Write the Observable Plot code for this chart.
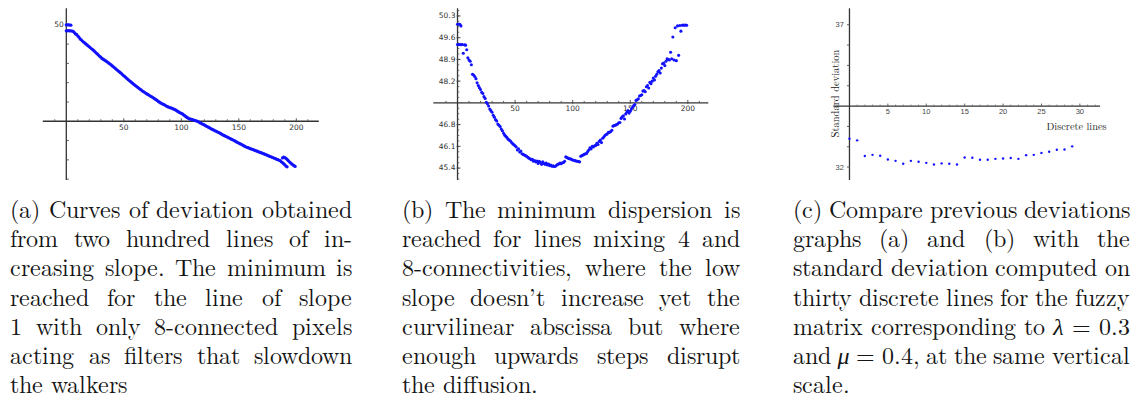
<!DOCTYPE html>
<html><head><meta charset="utf-8">
<script src="https://cdn.jsdelivr.net/npm/d3@7"></script>
<script src="https://cdn.jsdelivr.net/npm/@observablehq/plot@0.6"></script>
<style>
@font-face{font-family:"CapLM";font-style:normal;font-weight:400;
  src:local("LM Roman 10 Regular"),local("LMRoman10-Regular"),local("Latin Modern Roman"),local("CMU Serif Roman"),local("CMUSerif-Roman");
  ascent-override:80%;descent-override:24%;line-gap-override:0%;}
@font-face{font-family:"CapLM";font-style:italic;font-weight:400;
  src:local("LM Roman 10 Italic"),local("LMRoman10-Italic"),local("CMU Serif Italic"),local("CMUSerif-Italic");
  ascent-override:80%;descent-override:24%;line-gap-override:0%;}
body{margin:0;background:#fff;}
#wrap{position:relative;width:1138px;height:400px;overflow:hidden;background:#fff;}
.panel{position:absolute;top:0;}
.cap{position:absolute;top:197px;font-size:24px;line-height:29.2px;color:#151515;}
.cap span{font-family:inherit;}
.ln{display:flex;justify-content:space-between;white-space:nowrap;}
.ln.last{display:block;}
</style></head>
<body><div id="wrap"></div>
<script>
// ---------- Panel (a): deviation vs line index ----------
const aMainY = [
49.69,49.69,49.70,49.69,49.69,49.68,49.66,
49.60,49.53,49.50,49.42,49.36,49.27,
49.22,49.16,49.11,49.06,49.01,
48.96,48.91,48.86,48.81,48.76,48.71,48.66,
48.60,48.54,48.49,48.43,48.37,48.32,48.26,
48.22,48.18,48.14,48.10,48.06,48.01,47.97,
47.92,47.87,47.82,47.77,47.72,47.67,47.62,47.57,
47.52,47.47,47.41,47.36,47.31,47.25,47.20,
47.15,47.10,47.05,47.00,46.95,46.90,46.85,
46.81,46.76,46.72,46.67,46.63,46.58,46.54,
46.50,46.46,46.42,46.39,46.35,46.31,46.28,46.24,
46.20,46.16,46.12,46.08,46.03,45.99,45.95,
45.92,45.89,45.86,45.83,45.79,45.76,45.73,
45.71,45.69,45.67,45.64,45.62,45.59,
45.55,45.51,45.47,45.44,45.41,45.38,
45.33,45.29,45.24,45.20,45.16,
45.13,45.11,45.10,45.08,45.06,45.04,45.02,45.00,
44.97,44.93,44.90,44.87,44.84,44.81,44.77,44.74,44.71,44.68,44.64,44.61,44.58,44.55,
44.52,44.49,44.46,44.43,44.40,44.37,44.33,44.30,44.27,44.24,44.21,44.18,44.15,44.12,44.09,
44.06,44.03,44.00,43.97,43.93,43.90,43.87,43.84,43.81,43.78,43.74,43.71,43.68,43.65,
43.63,43.61,43.58,43.56,43.54,43.52,43.49,43.47,43.45,43.42,43.40,43.38,43.36,43.33,43.31,
43.28,43.26,43.23,43.21,43.18,43.16,43.13,43.11,43.08,43.06,43.03,43.01,42.98,42.96,
42.90,42.86,42.80,42.74,42.68,42.64
];
const aTopX = [0,1,2,3,4];
const aTopY = [50.00,50.00,50.00,49.99,49.98];
const aTailX = [188,189,190,191,192,193,194,195,196,197,198,199];
const aTailY = [43.10,43.14,43.12,43.08,43.02,42.96,42.90,42.84,42.79,42.74,42.70,42.66];
const aXLabels = [50,100,150,200];
const aYLabels = [50];
const aYTicks = [42,43,44,46,47,48,49,50];
const aAxisY = 45;

// ---------- Panel (b): dispersion vs line index ----------
const bMainY = [
49.38,49.38,49.38,49.37,49.38,49.10,49.37,49.36,
49.21,48.95,48.88,48.84,48.73,
48.42,48.40,48.35,48.28,48.15,48.06,47.99,47.93,
47.84,47.80,47.70,47.64,47.52,47.47,47.40,47.30,47.25,47.20,
47.10,47.04,46.96,46.92,46.82,46.78,46.74,46.66,46.60,46.52,
46.46,46.42,46.38,46.33,46.30,46.27,46.22,46.18,46.15,46.12,
46.08,45.98,46.02,45.92,45.95,45.86,45.84,45.82,45.80,45.78,
45.75,45.72,45.70,45.67,45.68,45.62,45.64,45.60,45.63,45.55,
45.62,45.58,45.52,45.60,45.55,45.52,45.56,45.50,45.53,45.48,
45.50,45.46,45.47,45.45,45.46,45.49,45.52,45.53,45.56,45.54,
45.57,45.58,45.62,45.76,45.74,45.72,45.70,45.70,45.68,45.66,
45.65,45.64,45.63,45.62,45.61,45.60,45.78,45.80,45.82,45.84,
45.86,45.87,45.93,45.98,46.05,46.02,46.10,46.08,46.12,46.13,
46.20,46.16,46.26,46.30,46.22,46.36,46.40,46.45,46.48,46.50,
46.55,46.55,46.58,46.62,46.75,46.77,46.78,46.80,46.82,46.86,
46.87,47.00,47.05,47.08,46.98,47.14,47.20,47.25,47.17,47.23,
47.30,47.36,47.41,47.45,47.58,47.60,47.63,47.72,47.74,47.76,
47.88,47.90,47.86,48.02,48.06,47.98,48.16,48.12,48.20,48.30,
48.24,48.36,48.42,48.50,48.54,48.46,48.62,48.76,48.78,48.70,
48.84,48.92,48.90,48.88,49.13,48.92,49.62,48.88,49.92,48.86,
49.98,49.03,49.99,49.81,50.00,50.01,50.00,50.01,50.00
];
const bTopX = [0,1,2,3];
const bTopY = [50.03,50.03,50.03,49.98];
const bXLabels = [50,100,150,200];
const bYLabels = [45.4,46.1,46.8,48.2,48.9,49.6,50.3];
const bAxisY = 47.5;

// ---------- Panel (c): standard deviation on thirty discrete lines ----------
const cX = d3.range(0, 30);
const cY = [33.00,32.94,32.39,32.43,32.40,32.27,32.22,32.12,32.22,32.19,
            32.15,32.09,32.13,32.12,32.09,32.34,32.33,32.26,32.26,32.29,
            32.30,32.32,32.29,32.42,32.43,32.50,32.54,32.61,32.62,32.73];
const cXLabels = [5,10,15,20,25,30];
const cYLabels = [32,37];
const cYTicks = d3.range(0, 8).map(k => 32 + k * 5 / 7);
const cAxisY = 32 + 3 * 5 / 7;

// ---------- helpers ----------
const BLUE = "#1212ff";
const AX = "#333";
const SERIF = "Latin Modern Roman, CMU Serif, Liberation Serif, DejaVu Serif, Noto Serif, Tinos, FreeSerif, Times New Roman, serif";
const vSym = (up, down) => ({draw(ctx){ ctx.moveTo(0, -up); ctx.lineTo(0, down); }});
const hSym = (left, right) => ({draw(ctx){ ctx.moveTo(-left, 0); ctx.lineTo(right, 0); }});
const tickFont = {fontFamily: "DejaVu Sans", fontSize: 7.5, fill: "#333"};

function place(node, left, w) {
  const d = document.createElement("div");
  d.className = "panel";
  d.style.left = left + "px";
  d.style.width = w + "px";
  d.appendChild(node);
  document.getElementById("wrap").appendChild(d);
}

// ---------- (a) ----------
{
  const xd = [-20, 220], yd = [41.93, 50.83];
  const p = Plot.plot({
    width: 340, height: 190, margin: 0,
    style: {background: "transparent", overflow: "visible"},
    x: {domain: xd, range: [42.8, 318.8], axis: null},
    y: {domain: yd, range: [180, 8.3], axis: null},
    marks: [
      Plot.ruleY([aAxisY], {x1: xd[0], x2: xd[1], stroke: AX, strokeWidth: 1.3}),
      Plot.ruleX([0], {y1: yd[0], y2: yd[1], stroke: AX, strokeWidth: 1.3}),
      Plot.dot(d3.range(-10, 211, 10).filter(v => v !== 0 && v % 50 !== 0), {x: d => d, y: () => aAxisY, symbol: vSym(2, 0), stroke: "#555", fill: "none", strokeWidth: 0.9}),
      Plot.dot(aXLabels, {x: d => d, y: () => aAxisY, symbol: vSym(3, 1), stroke: "#444", fill: "none", strokeWidth: 0.9}),
      Plot.dot(aYTicks, {x: () => 0, y: d => d, symbol: hSym(0, 2.5), stroke: "#444", fill: "none", strokeWidth: 0.9}),
      Plot.text(aXLabels, {x: d => d, y: () => aAxisY, text: d => String(d), dy: 6.5, ...tickFont}),
      Plot.text(aYLabels, {x: () => 0, y: d => d, text: d => String(d), dx: -2.5, textAnchor: "end", ...tickFont}),
      Plot.dot(aMainY, {x: (d, i) => i, y: d => d, r: 1.6, fill: BLUE}),
      Plot.dot(aTopX, {x: d => d, y: (d, i) => aTopY[i], r: 1.6, fill: BLUE}),
      Plot.dot(aTailX, {x: d => d, y: (d, i) => aTailY[i], r: 1.6, fill: BLUE})
    ]
  });
  place(p, 0, 340);
}

// ---------- (b) ----------
{
  const xd = [-20.6, 218.2], yd = [45.0, 50.53];
  const p = Plot.plot({
    width: 340, height: 190, margin: 0,
    style: {background: "transparent", overflow: "visible"},
    x: {domain: xd, range: [53.3, 328.3], axis: null},
    y: {domain: yd, range: [180, 8.3], axis: null},
    marks: [
      Plot.ruleY([bAxisY], {x1: xd[0], x2: xd[1], stroke: AX, strokeWidth: 1.3}),
      Plot.ruleX([0], {y1: yd[0], y2: yd[1], stroke: AX, strokeWidth: 1.3}),
      Plot.dot(d3.range(-10, 211, 10).filter(v => v !== 0 && v % 50 !== 0), {x: d => d, y: () => bAxisY, symbol: vSym(2, 0), stroke: "#555", fill: "none", strokeWidth: 0.9}),
      Plot.dot(bXLabels, {x: d => d, y: () => bAxisY, symbol: vSym(3, 1), stroke: "#444", fill: "none", strokeWidth: 0.9}),
      Plot.dot(d3.range(0, 32).map(k => 45.05 + k * 0.175).filter(v => Math.abs(v - 47.5) > 0.05), {x: () => 0, y: d => d, symbol: hSym(0, 1.8), stroke: "#555", fill: "none", strokeWidth: 0.8}),
      Plot.dot(bYLabels, {x: () => 0, y: d => d, symbol: hSym(1, 3), stroke: "#444", fill: "none", strokeWidth: 0.9}),
      Plot.text(bXLabels, {x: d => d, y: () => bAxisY, text: d => String(d), dy: 5.8, ...tickFont}),
      Plot.text(bYLabels, {x: () => 0, y: d => d, text: d => d.toFixed(1), dx: -2, textAnchor: "end", ...tickFont}),
      Plot.dot(bMainY, {x: (d, i) => i, y: d => d, r: 1.55, fill: BLUE}),
      Plot.dot(bTopX, {x: d => d, y: (d, i) => bTopY[i], r: 1.55, fill: BLUE})
    ]
  });
  place(p, 380, 340);
}

// ---------- (c) ----------
{
  const xd = [-2.04, 32.7], yd = [31.53, 37.56];
  const p = Plot.plot({
    width: 378, height: 190, margin: 0,
    style: {background: "transparent", overflow: "visible"},
    x: {domain: xd, range: [73.3, 340.1], axis: null},
    y: {domain: yd, range: [180, 8.3], axis: null},
    marks: [
      Plot.ruleY([cAxisY], {x1: xd[0], x2: xd[1], stroke: AX, strokeWidth: 1.3}),
      Plot.ruleX([0], {y1: yd[0], y2: yd[1], stroke: AX, strokeWidth: 1.3}),
      Plot.dot(d3.range(1, 33).filter(v => v % 5 !== 0), {x: d => d, y: () => cAxisY, symbol: vSym(1.5, 0), stroke: "#666", fill: "none", strokeWidth: 0.8}),
      Plot.dot(cXLabels, {x: d => d, y: () => cAxisY, symbol: vSym(2.5, 0), stroke: "#555", fill: "none", strokeWidth: 0.9}),
      Plot.dot(cYTicks.filter(v => Math.abs(v - cAxisY) > 0.01), {x: () => 0, y: d => d, symbol: hSym(2.5, 0), stroke: "#555", fill: "none", strokeWidth: 0.9}),
      Plot.text(cXLabels, {x: d => d, y: () => cAxisY, text: d => String(d), dy: 5.5, fontFamily: "Liberation Sans", fontSize: 7.5, fill: "#444"}),
      Plot.text(cYLabels, {x: () => 0, y: d => d, text: d => String(d), dx: -5.5, textAnchor: "end", fontFamily: "Liberation Sans", fontSize: 7.5, fill: "#444"}),
      Plot.text(["Standard deviation"], {frameAnchor: "top-left", dx: 70.7, dy: 93, rotate: -90, textAnchor: "middle", fontFamily: SERIF, fontSize: 10.5, fill: "#222"}),
      Plot.text(["Discrete lines"], {frameAnchor: "top-left", dx: 286, dy: 121.7, textAnchor: "start", fontFamily: SERIF, fontSize: 10.3, fill: "#222"}),
      Plot.dot(cX, {x: d => d, y: (d, i) => cY[i], r: 1.2, fill: BLUE})
    ]
  });
  place(p, 760, 378);
}

// ---------- captions ----------
const capA = ["(a) Curves of deviation obtained", "from two hundred lines of in-", "creasing slope. The minimum is", "reached for the line of slope", "1 with only 8-connected pixels", "acting as filters that slowdown", "the walkers"];
const capB = ["(b) The minimum dispersion is", "reached for lines mixing 4 and", "8-connectivities, where the low", "slope doesn\u2019t increase yet the", "curvilinear abscissa but where", "enough upwards steps disrupt", "the diffusion."];
const capC = ["(c) Compare previous deviations", "graphs (a) and (b) with the", "standard deviation computed on", "thirty discrete lines for the fuzzy", "matrix corresponding to \u03bb = 0.3", "and \u03bc = 0.4, at the same vertical", "scale."];

function word(w) {
  const s = document.createElement("span");
  if (w === "\u03bb" || w === "\u03bc") { s.style.fontStyle = "italic"; }
  s.textContent = w;
  return s;
}
function caption(lines, left, width) {
  const c = document.createElement("div");
  c.className = "cap";
  c.style.left = left + "px";
  c.style.width = width + "px";
  c.style.fontFamily = "CapLM, " + SERIF;
  lines.forEach((ln, i) => {
    const d = document.createElement("div");
    if (i === lines.length - 1) {
      d.className = "ln last";
      d.textContent = ln;
    } else {
      d.className = "ln";
      ln.split(" ").forEach(w => d.appendChild(word(w)));
    }
    c.appendChild(d);
  });
  document.getElementById("wrap").appendChild(c);
}
caption(capA, 10, 342);
caption(capB, 401.7, 338.3);
caption(capC, 793, 337);
</script>
</body></html>
